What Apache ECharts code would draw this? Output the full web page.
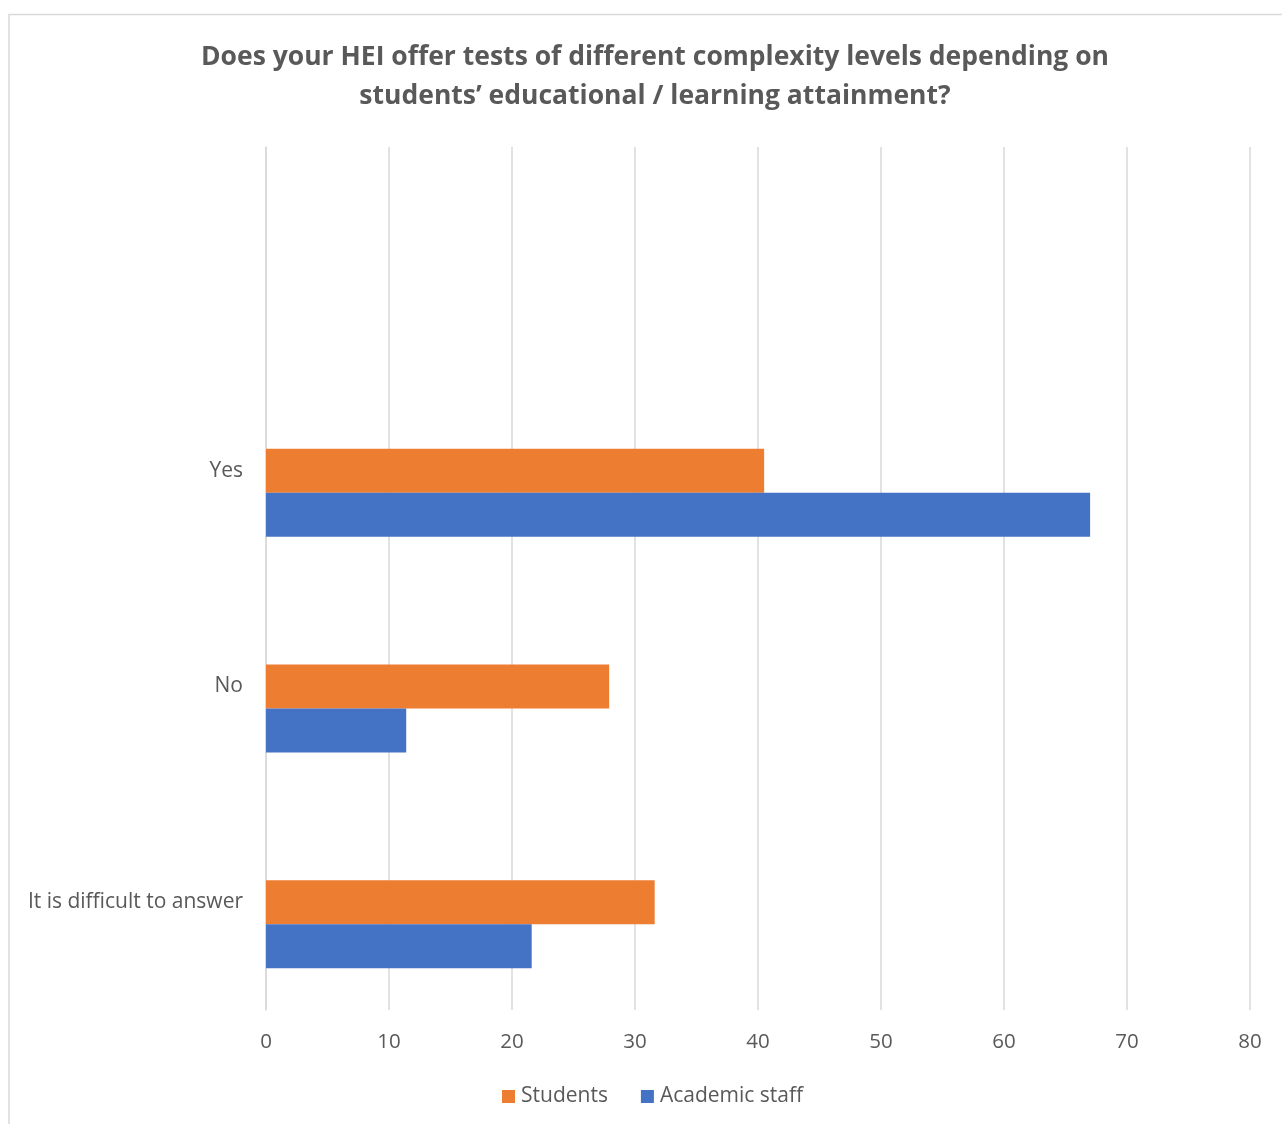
<!DOCTYPE html>
<html><head><meta charset="utf-8">
<script src="https://cdn.jsdelivr.net/npm/echarts@6/dist/echarts.min.js"></script>
<style>html,body{margin:0;padding:0;background:#fff}#c{width:1282px;height:1124px}</style>
</head><body><div id="c"></div>
<script>
const titleText = "Does your HEI offer tests of different complexity levels depending on\nstudents\u2019 educational / learning attainment?";
const categories = ["", "Yes", "No", "It is difficult to answer"];
const students = [null, 40.5, 27.9, 31.6];
const academicStaff = [null, 67.0, 11.4, 21.6];
const xTicks = [0, 10, 20, 30, 40, 50, 60, 70, 80];

const font = "'Open Sans', sans-serif";
const chart = echarts.init(document.getElementById('c'));
chart.setOption({
  animation: false,
  title: {
    text: titleText, left: 650, top: 33, textAlign: 'center',
    textStyle: {fontFamily: font, fontSize: 26.5, fontWeight: 'bold', color: '#595959', lineHeight: 39}
  },
  graphic: [{type: 'rect', shape: {x: 9, y: 14.5, width: 1290, height: 1130}, style: {fill: 'none', stroke: '#d9d9d9', lineWidth: 1.5}, silent: true}],
  legend: {
    data: ['Students', 'Academic staff'], bottom: 12, left: 497,
    itemWidth: 13, itemHeight: 13, itemGap: 33, icon: 'rect',
    textStyle: {fontFamily: font, fontSize: 21, color: '#595959', padding: [0, 0, 0, 1]}
  },
  grid: {left: 266, right: 32, top: 147, bottom: 114, containLabel: false},
  xAxis: {
    type: 'value', min: xTicks[0], max: xTicks[xTicks.length - 1], interval: 10,
    axisLine: {show: false}, axisTick: {show: false},
    axisLabel: {fontFamily: font, fontSize: 20.5, color: '#595959', margin: 22},
    splitLine: {lineStyle: {color: '#d9d9d9', width: 1.5}}
  },
  yAxis: {
    type: 'category', data: categories, inverse: true,
    axisLine: {show: true, lineStyle: {color: '#d9d9d9', width: 1.5}}, axisTick: {show: false},
    axisLabel: {fontFamily: font, fontSize: 21, color: '#595959', margin: 23}
  },
  series: [
    {name: 'hidden', type: 'bar', data: [null, null, null, null], barWidth: 44, barGap: '0%'},
    {name: 'Students', type: 'bar', data: students, barWidth: 44, barGap: '0%', itemStyle: {color: '#ED7D31'}},
    {name: 'Academic staff', type: 'bar', data: academicStaff, barWidth: 44, barGap: '0%', itemStyle: {color: '#4472C4'}}
  ]
});
</script></body></html>
